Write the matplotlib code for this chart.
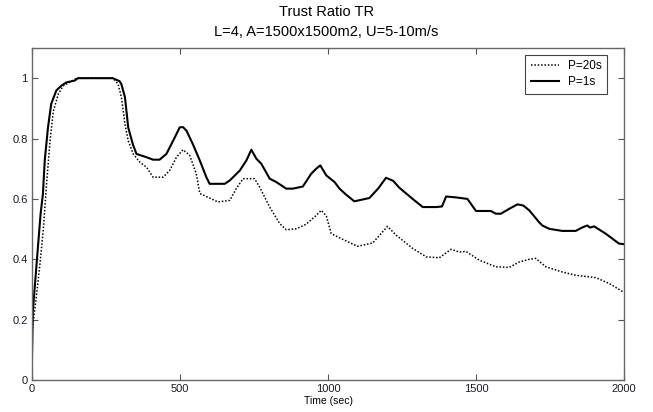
import matplotlib
matplotlib.use("Agg")
import matplotlib.pyplot as plt

plt.rcParams['font.family'] = ['Liberation Sans', 'DejaVu Sans']

# P=1s (solid)
t_p1 = [0, 3, 20, 29, 37, 43, 54, 65, 82, 99, 116, 144, 155, 273, 296, 302, 314,
        325, 341, 353, 387, 409, 431, 454, 477, 499, 510, 522, 544, 567, 589, 600,
        651, 668, 702, 724, 741, 758, 775, 803, 825, 859, 881, 915, 943, 960, 974,
        994, 1022, 1039, 1060, 1089, 1140, 1170, 1196, 1220, 1241, 1286, 1320, 1366,
        1385, 1399, 1432, 1471, 1500, 1550, 1567, 1584, 1612, 1640, 1660, 1680, 1713,
        1724, 1747, 1791, 1837, 1858, 1876, 1885, 1899, 1938, 1983, 2000]
tr_p1 = [0.08, 0.23, 0.44, 0.55, 0.618, 0.727, 0.837, 0.915, 0.959, 0.975, 0.986, 0.992,
         1.0, 1.0, 0.99, 0.98, 0.937, 0.837, 0.78, 0.749, 0.738, 0.73, 0.73, 0.749,
         0.793, 0.837, 0.838, 0.826, 0.78, 0.727, 0.672, 0.65, 0.65, 0.661, 0.694,
         0.727, 0.763, 0.733, 0.716, 0.667, 0.656, 0.634, 0.634, 0.641, 0.683, 0.70,
         0.711, 0.678, 0.656, 0.634, 0.615, 0.592, 0.603, 0.635, 0.67, 0.66, 0.637,
         0.60, 0.573, 0.573, 0.575, 0.608, 0.605, 0.60, 0.56, 0.56, 0.551, 0.551,
         0.567, 0.582, 0.578, 0.562, 0.523, 0.512, 0.501, 0.494, 0.494, 0.505, 0.512,
         0.505, 0.509, 0.485, 0.452, 0.45]

# P=20s (dotted)
t_p20 = [0, 16, 27, 38, 50, 61, 72, 89, 106, 134, 151, 274, 291, 302, 314, 325, 342,
         364, 387, 409, 443, 465, 488, 510, 533, 555, 567, 589, 628, 668, 690, 713,
         752, 769, 803, 837, 859, 893, 926, 960, 977, 994, 1011, 1039, 1100, 1151,
         1201, 1230, 1286, 1332, 1376, 1416, 1443, 1466, 1511, 1567, 1612, 1646,
         1680, 1702, 1736, 1791, 1837, 1905, 1950, 2000]
tr_p20 = [0.16, 0.287, 0.386, 0.496, 0.66, 0.793, 0.89, 0.948, 0.975, 0.99, 1.0, 1.0,
          0.98, 0.937, 0.848, 0.793, 0.749, 0.722, 0.705, 0.672, 0.672, 0.694, 0.738,
          0.763, 0.744, 0.683, 0.618, 0.608, 0.59, 0.595, 0.634, 0.667, 0.667, 0.639,
          0.573, 0.518, 0.498, 0.501, 0.516, 0.545, 0.562, 0.545, 0.485, 0.471,
          0.443, 0.454, 0.509, 0.48, 0.436, 0.408, 0.405, 0.433, 0.424, 0.426,
          0.397, 0.375, 0.373, 0.391, 0.40, 0.403, 0.375, 0.358, 0.347, 0.339,
          0.32, 0.29]

xticks = [0, 500, 1000, 1500, 2000]
yticks = [0, 0.2, 0.4, 0.6, 0.8, 1]
ytick_labels = ['0', '0.2', '0.4', '0.6', '0.8', '1']

fig = plt.figure(figsize=(6.53, 4.12), dpi=100)
ax = fig.add_axes([32/653, 32/412, (624-32)/653, (380-48)/412])

ax.plot(t_p20, tr_p20, linestyle=(0, (1, 1.2)), color='black', linewidth=1.1, label='P=20s')
ax.plot(t_p1, tr_p1, linestyle='-', color='black', linewidth=1.5, label='P=1s')

ax.set_xlim(0, 2000)
ax.set_ylim(0, 1.1)
ax.set_xticks(xticks)
ax.set_yticks(yticks)
ax.set_yticklabels(ytick_labels)
ax.tick_params(direction='in', length=4, width=0.8, top=True, right=True,
               labelsize=8, colors='#555555', labelcolor='#1a1a2a', pad=3)
for s in ax.spines.values():
    s.set_color('#666666')
    s.set_linewidth(1.0)

ax.set_xlabel('Time (sec)', fontsize=7.5, labelpad=1)
fig.text(0.5, 1 - 12/412, 'Trust Ratio TR', ha='center', va='center', fontsize=10.5)
fig.text(0.5, 1 - 32/412, 'L=4, A=1500x1500m2, U=5-10m/s', ha='center', va='center', fontsize=10.5)

leg = ax.legend(loc='upper right', fontsize=8.5, handlelength=2.4, frameon=True,
                fancybox=False, edgecolor='#444444', framealpha=1,
                borderpad=0.45, labelspacing=0.35, handletextpad=0.8,
                bbox_to_anchor=(0.982, 0.997))
leg.get_frame().set_linewidth(0.8)

fig.savefig('out.png', dpi=100, facecolor='white')
